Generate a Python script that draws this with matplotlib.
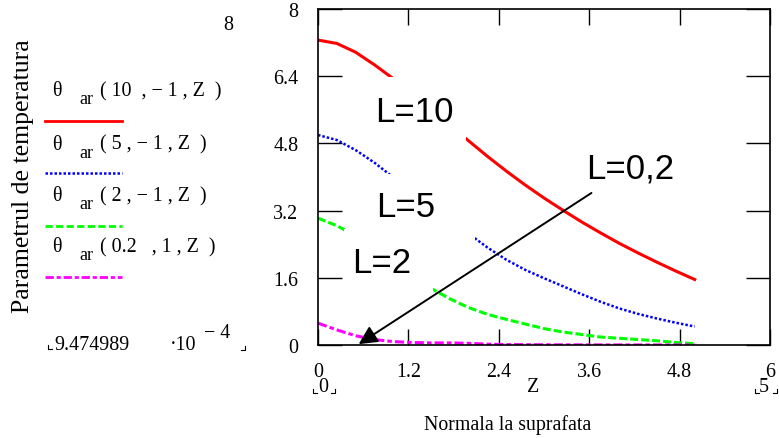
import numpy as np
import matplotlib.pyplot as plt
from matplotlib.lines import Line2D
from matplotlib.patches import Rectangle

# normal distance from the surface
Z = [0.0, 0.25, 0.5, 0.75, 1.0, 1.25, 1.5, 1.75, 2.0, 2.25, 2.5,
     2.75, 3.0, 3.25, 3.5, 3.75, 4.0, 4.25, 4.5, 4.75, 5.0]

# temperature parameter theta_ar(L, s, Z) for each L
theta_L10 = [7.26, 7.18, 6.97, 6.67, 6.34, 5.97, 5.60, 5.23, 4.86, 4.49, 4.14,
             3.81, 3.50, 3.21, 2.93, 2.67, 2.42, 2.19, 1.97, 1.76, 1.56]
theta_L5 = [5.00, 4.88, 4.64, 4.34, 3.99, 3.64, 3.29, 2.95, 2.65, 2.32, 2.03,
            1.79, 1.59, 1.40, 1.21, 1.03, 0.87, 0.74, 0.63, 0.53, 0.44]
theta_L2 = [3.02, 2.84, 2.60, 2.27, 1.94, 1.63, 1.35, 1.10, 0.89, 0.73, 0.61,
            0.50, 0.39, 0.31, 0.25, 0.19, 0.16, 0.13, 0.10, 0.06, 0.03]
theta_L02 = [0.52, 0.36, 0.22, 0.13, 0.08, 0.06, 0.05, 0.05, 0.04, 0.02, 0.01,
             0.008, 0.005, 0.004, 0.003, 0.002, 0.002, 0.001, 0.001, 0.001, 0.001]

xticks = [0, 1.2, 2.4, 3.6, 4.8, 6]
yticks = [0, 1.6, 3.2, 4.8, 6.4, 8]

W, H = 779, 439
serif = 'Liberation Serif'
sans = 'Liberation Sans'
fs = 14.4

def px(x, y):
    # pixel position -> figure fraction
    return x / W, 1 - y / H

fig = plt.figure(figsize=(W / 100, H / 100), dpi=100)
ax = fig.add_axes([318 / W, (H - 346) / H, 452 / W, 336 / H])

series = [
    (theta_L10, '#ff0000', '-', 2.2),
    (theta_L5, '#0000ff', (0, (1.0, 0.8)), 1.8),
    (theta_L2, '#00ff00', (0, (2.6, 1.0)), 2.2),
    (theta_L02, '#ff00ff', (0, (3, 1, 1.5, 1)), 2.2),
]
for vals, col, ls, lw in series:
    ax.plot(Z, vals, color=col, linestyle=ls, linewidth=lw, zorder=2)

ax.set_xlim(0, 6)
ax.set_ylim(0, 8)
ax.set_xticks(xticks)
ax.set_yticks(yticks)
ax.set_xticklabels(['0', '1.2', '2.4', '3.6', '4.8', '6'], fontfamily=serif, fontsize=fs)
ax.set_yticklabels(['0', '1.6', '3.2', '4.8', '6.4', '8'], fontfamily=serif, fontsize=fs)
ax.tick_params(axis='x', direction='in', length=11.5, width=1, top=True, pad=12)
ax.tick_params(axis='y', direction='in', length=17, width=1, right=True, pad=14)
for s in ax.spines.values():
    s.set_linewidth(1.2)

# white label boxes sit over the curves
boxes = [(0.69, 4.79, 1.27, 1.60), (0.69, 2.40, 1.40, 1.68), (0.35, 1.28, 1.17, 1.48)]
for x0, y0, w, h in boxes:
    ax.add_patch(Rectangle((x0, y0), w, h, facecolor='white', edgecolor='none', zorder=3))

ax.text(0.76, 5.55, 'L=10', fontfamily=sans, fontsize=25, va='center', zorder=4)
ax.text(0.77, 3.29, 'L=5', fontfamily=sans, fontsize=25, va='center', zorder=4)
ax.text(0.45, 1.97, 'L=2', fontfamily=sans, fontsize=25, va='center', zorder=4)
ax.text(3.56, 4.21, 'L=0,2', fontfamily=sans, fontsize=25, va='center', zorder=4)

ax.annotate('', xy=(0.54, 0.02), xytext=(3.63, 3.62),
            arrowprops=dict(arrowstyle='-|>', color='black', lw=1.4,
                            mutation_scale=28, shrinkA=0, shrinkB=0), zorder=5)

# axis titles and range marks
fig.text(*px(23, 176), 'Parametrul de temperatura', rotation=90, fontfamily=serif,
         fontsize=18.5, ha='center', va='center')
fig.text(*px(508, 425), 'Normala la suprafata', fontfamily=serif, fontsize=14.3,
         ha='center', va='center')
fig.text(*px(533, 388), 'Z', fontfamily=serif, fontsize=fs, ha='center', va='center')
fig.text(*px(228, 25), '8', fontfamily=serif, fontsize=fs, ha='center', va='center')
fig.text(*px(323, 388), '0', fontfamily=serif, fontsize=fs, ha='center', va='center')
fig.text(*px(764, 388), '5', fontfamily=serif, fontsize=fs, ha='center', va='center')
fig.text(*px(54, 346), '9.474989', fontfamily=serif, fontsize=fs, ha='left', va='center')
fig.text(*px(170, 346), '·10', fontfamily=serif, fontsize=fs, ha='left', va='center')
fig.text(*px(204, 333), '− 4', fontfamily=serif, fontsize=fs, ha='left', va='center')

# corner marks around the range values
corners = [(48, 56, 350, 'L'), (237, 245, 351, 'R'), (313, 320, 394, 'L'),
           (328, 335, 394, 'R'), (755, 762, 394, 'L'), (770, 777, 394, 'R')]
for xa, xb, yb, side in corners:
    if side == 'L':
        xs, ys = [xa, xa, xa + 4], [yb - 4, yb, yb]
    else:
        xs, ys = [xb - 4, xb, xb], [yb, yb, yb - 4]
    fig.add_artist(Line2D([x / W for x in xs], [1 - y / H for y in ys],
                          color='black', lw=0.8))

# legend entries: label above a sample line
legend = [
    ('( 10  , − 1 , Z  )', '#ff0000', '-', 2.0, 92, 122),
    ('( 5 , − 1 , Z  )', '#0000ff', (0, (1.0, 0.8)), 1.8, 145, 174),
    ('( 2 , − 1 , Z  )', '#00ff00', (0, (2.6, 1.2)), 2.0, 197, 227),
    ('( 0.2   , 1 , Z  )', '#ff00ff', (0, (3, 1, 1.5, 1)), 2.0, 248, 278),
]
for txt, col, ls, lw, ty, ly in legend:
    fig.text(*px(52, ty), 'θ', fontfamily=serif, fontsize=fs, ha='left', va='center')
    fig.text(*px(79, ty + 8), 'ar', fontfamily=serif, fontsize=13, ha='left', va='center')
    fig.text(*px(100, ty), txt, fontfamily=serif, fontsize=fs, ha='left', va='center')
    fig.add_artist(Line2D([45 / W, 122 / W], [1 - ly / H, 1 - ly / H],
                          color=col, linestyle=ls, lw=lw))

fig.savefig('out.png', dpi=100)
